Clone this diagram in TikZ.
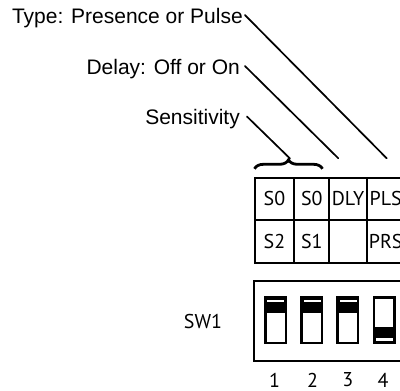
\documentclass[tikz,border=0pt]{standalone}
\usepackage{fontspec}
\setmainfont{Liberation Sans}
\newfontfamily\tabfont{PT Sans}
\usetikzlibrary{decorations.pathreplacing}
\tikzset{
  lbl/.style={font=\fontsize{21}{24}\selectfont, inner sep=0pt, anchor=base east},
  conn/.style={line width=1.7pt, line cap=round},
  cell/.style={draw, line width=2pt, rectangle, inner sep=0pt, anchor=north west,
               font=\tabfont\fontsize{20}{24}\selectfont, minimum height=42.5pt},
  num/.style={font=\tabfont\fontsize{20}{24}\selectfont, inner sep=0pt},
  swbox/.style={draw, line width=2.5pt, fill=white},
  knob/.style={fill=black},
  slot/.style={fill=white},
}
\begin{document}
\begin{tikzpicture}[x=1pt,y=-1pt]
\useasboundingbox (0,0) rectangle (400,391);
\clip (0,0) rectangle (400,391);

% labels
\node[lbl] (type) at (243,23) {Type: Presence or Pulse};
\node[lbl] (delay) at (240,74) {Delay: Off or On};
\node[lbl] (sens) at (240,124) {Sensitivity};

% table cells
\node[cell, minimum width=39.8pt] (c11) at (253.5,176.7) {S0};
\node[cell, minimum width=35pt] (c12) at (293.3,176.7) {S0};
\node[cell, minimum width=37.4pt] (c13) at (328.3,176.7) {DLY};
\node[cell, minimum width=38pt] (c14) at (365.7,176.7) {PLS};
\node[cell, minimum width=39.8pt] (c21) at (253.5,219.3) {S2};
\node[cell, minimum width=35pt] (c22) at (293.3,219.3) {S1};
\node[cell, minimum width=37.4pt] (c23) at (328.3,219.3) {};
\node[cell, minimum width=38pt] (c24) at (365.7,219.3) {PRS};

% brace
\draw[decorate, decoration={brace, amplitude=9pt}, line width=2.8pt]
  (254.5,168.8) -- (322.5,168.8);
\coordinate (braceTip) at (290,158.5);
\coordinate (dlyTop) at (338.3,158.3);
\coordinate (plsTop) at (386.7,158.3);

% connectors
\draw[conn] ([xshift=2pt,yshift=2.5pt]type.east) -- (plsTop);
\draw[conn] ([xshift=5pt,yshift=2.5pt]delay.east) -- (dlyTop);
\draw[conn] ([xshift=7pt,yshift=2pt]sens.east) -- (braceTip);

% DIP switch housing
\draw[line width=2pt] (410,281) -- (253.5,281) -- (253.5,360.7) -- (410,360.7);
\node[num] (sw) at (203,321) {SW1};

% switches
\foreach \i/\up in {0/1,1/1,2/1,3/0}{
  \pgfmathsetmacro{\xl}{265.5+36.1*\i}
  \pgfmathsetmacro{\xr}{\xl+20.5}
  \draw[swbox] (\xl,297.3) rectangle (\xr,342.8);
  \ifnum\up=1
    \fill[knob] (\xl,297.3) rectangle (\xr,313.3);
    \fill[slot] (\xl+1.9,299.5) rectangle (\xr-1.6,302.4);
  \else
    \fill[knob] (\xl,327.3) rectangle (\xr,342.8);
    \fill[slot] (\xl+1.9,338.3) rectangle (\xr-1.6,341.3);
  \fi
  \draw[line width=2.5pt] (\xl,297.3) rectangle (\xr,342.8);
}

% numbers
\node[num] (n1) at (274.5,380) {1};
\node[num] (n2) at (312.5,380) {2};
\node[num] (n3) at (347.7,380) {3};
\node[num] (n4) at (383,380) {4};
\end{tikzpicture}
\end{document}
